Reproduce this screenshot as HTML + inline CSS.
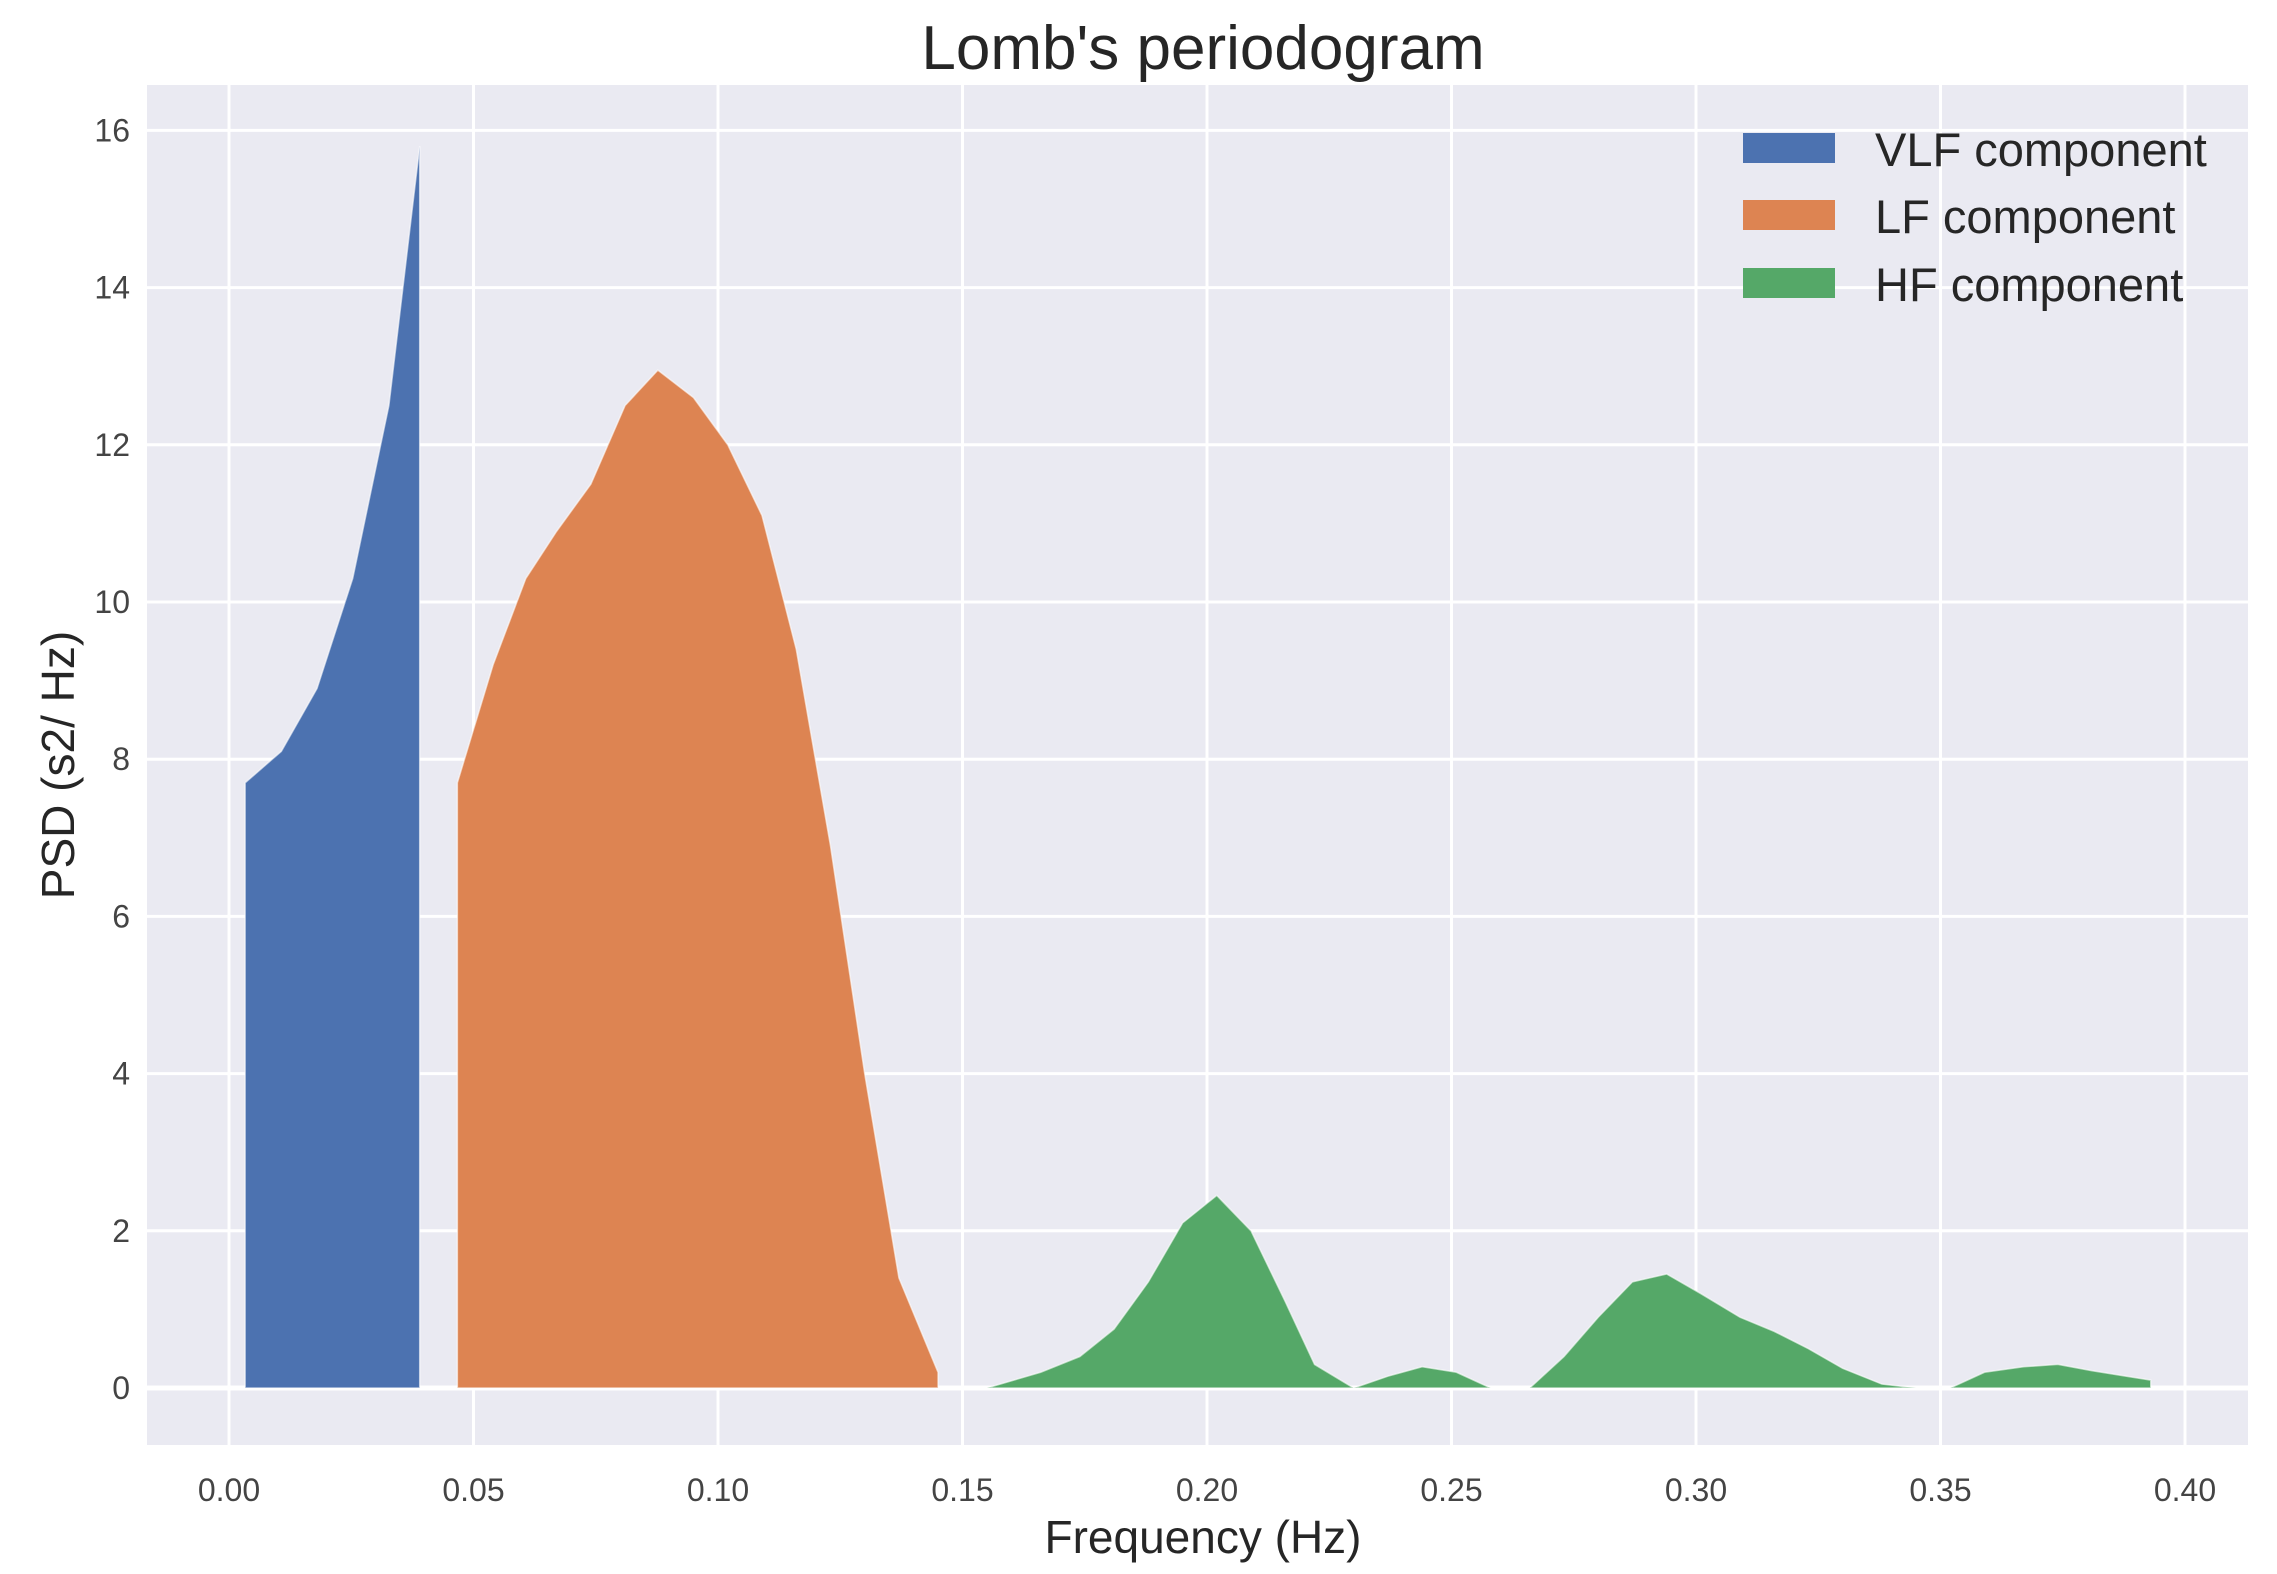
<!DOCTYPE html>
<html>
<head>
<meta charset="utf-8">
<style>
html,body{margin:0;padding:0;background:#fff;}
svg{display:block;font-family:"Liberation Sans",sans-serif;}
</style>
</head>
<body>
<svg id="chart" width="2277" height="1574" viewBox="0 0 2277 1574" xmlns="http://www.w3.org/2000/svg">
  <rect x="0" y="0" width="2277" height="1574" fill="#ffffff"/>
  <rect x="147" y="85" width="2101" height="1360" fill="#eaeaf2"/>
  <g id="grid"></g>
  <g id="series"></g>
  <g id="ticks"></g>
  <text x="1203" y="69" font-size="62" text-anchor="middle" fill="#262626">Lomb's periodogram</text>
  <text x="1203" y="1553" font-size="46" text-anchor="middle" fill="#262626">Frequency (Hz)</text>
  <text x="0" y="0" font-size="46" text-anchor="middle" fill="#262626" transform="translate(74,765) rotate(-90)">PSD (s2/ Hz)</text>
  <g>
    <rect x="1743" y="133" width="92" height="30" fill="#4c72b0"/>
    <text x="1875" y="166" font-size="47" fill="#262626">VLF component</text>
    <rect x="1743" y="200" width="92" height="30" fill="#dd8452"/>
    <text x="1875" y="233" font-size="47" fill="#262626">LF component</text>
    <rect x="1743" y="268" width="92" height="30" fill="#55a868"/>
    <text x="1875" y="301" font-size="47" fill="#262626">HF component</text>
  </g>
</svg>
<script>
const xTicks = [0.00, 0.05, 0.10, 0.15, 0.20, 0.25, 0.30, 0.35, 0.40];
const xTickLabels = ["0.00","0.05","0.10","0.15","0.20","0.25","0.30","0.35","0.40"];
const yTicks = [0, 2, 4, 6, 8, 10, 12, 14, 16];
const yTickLabels = ["0","2","4","6","8","10","12","14","16"];

const vlfFreq = [0.0033, 0.0107, 0.018, 0.0253, 0.0327, 0.039];
const vlfPsd  = [7.7, 8.1, 8.9, 10.3, 12.5, 15.8];

const lfFreq = [0.0467, 0.054, 0.0607, 0.067, 0.074, 0.081, 0.0877, 0.095, 0.102, 0.109, 0.116, 0.123, 0.130, 0.137, 0.145];
const lfPsd  = [7.7, 9.2, 10.3, 10.9, 11.5, 12.5, 12.95, 12.6, 12.0, 11.1, 9.4, 6.9, 4.0, 1.4, 0.2];

const hfFreq = [0.155, 0.166, 0.174, 0.181, 0.188, 0.195, 0.202, 0.209, 0.216, 0.222, 0.230, 0.237, 0.244, 0.251, 0.258, 0.266, 0.273, 0.280, 0.287, 0.294, 0.301, 0.309, 0.316, 0.323, 0.330, 0.338, 0.345, 0.352, 0.359, 0.367, 0.374, 0.381, 0.388, 0.393];
const hfPsd  = [0.0, 0.2, 0.4, 0.75, 1.35, 2.1, 2.45, 2.0, 1.1, 0.3, 0.0, 0.15, 0.27, 0.2, 0.0, 0.0, 0.4, 0.9, 1.35, 1.45, 1.2, 0.9, 0.72, 0.5, 0.25, 0.05, 0.0, 0.0, 0.2, 0.27, 0.3, 0.22, 0.15, 0.1];

const NS = "http://www.w3.org/2000/svg";
function xScale(f){ return 229 + f * 4890; }
function yScale(v){ return 1388 - v * 78.6; }

const grid = document.getElementById('grid');
const ticks = document.getElementById('ticks');
const series = document.getElementById('series');

xTicks.forEach((t, i) => {
  const l = document.createElementNS(NS, 'line');
  l.setAttribute('x1', xScale(t)); l.setAttribute('x2', xScale(t));
  l.setAttribute('y1', 85); l.setAttribute('y2', 1445);
  l.setAttribute('stroke', '#ffffff'); l.setAttribute('stroke-width', 3);
  
  
  grid.appendChild(l);
  const tx = document.createElementNS(NS, 'text');
  tx.setAttribute('x', xScale(t)); tx.setAttribute('y', 1501);
  tx.setAttribute('font-size', 32); tx.setAttribute('text-anchor', 'middle');
  tx.setAttribute('fill', '#444');
  tx.textContent = xTickLabels[i];
  
  
  ticks.appendChild(tx);
});

yTicks.forEach((t, i) => {
  const l = document.createElementNS(NS, 'line');
  l.setAttribute('x1', 147); l.setAttribute('x2', 2248);
  l.setAttribute('y1', yScale(t)); l.setAttribute('y2', yScale(t));
  l.setAttribute('stroke', '#ffffff'); l.setAttribute('stroke-width', t === 0 ? 5 : 3);
  
  
  grid.appendChild(l);
  const tx = document.createElementNS(NS, 'text');
  tx.setAttribute('x', 130); tx.setAttribute('y', yScale(t) + 11);
  tx.setAttribute('font-size', 32); tx.setAttribute('text-anchor', 'end');
  tx.setAttribute('fill', '#444');
  tx.textContent = yTickLabels[i];
  
  
  ticks.appendChild(tx);
});

function area(freq, psd, color, name){
  let d = 'M' + xScale(freq[0]) + ',' + yScale(0);
  for (let i = 0; i < freq.length; i++) d += ' L' + xScale(freq[i]) + ',' + yScale(psd[i]);
  d += ' L' + xScale(freq[freq.length-1]) + ',' + yScale(0) + ' Z';
  const p = document.createElementNS(NS, 'path');
  p.setAttribute('d', d);
  p.setAttribute('fill', color);
  p.setAttribute('stroke', '#ffffff');
  p.setAttribute('stroke-width', 1.5);
  p.setAttribute('stroke-opacity', 0.6);
  
  
  series.appendChild(p);
}
area(vlfFreq, vlfPsd, '#4c72b0', 'vlf-area');
area(lfFreq, lfPsd, '#dd8452', 'lf-area');
area(hfFreq, hfPsd, '#55a868', 'hf-area');
</script>
</body>
</html>
